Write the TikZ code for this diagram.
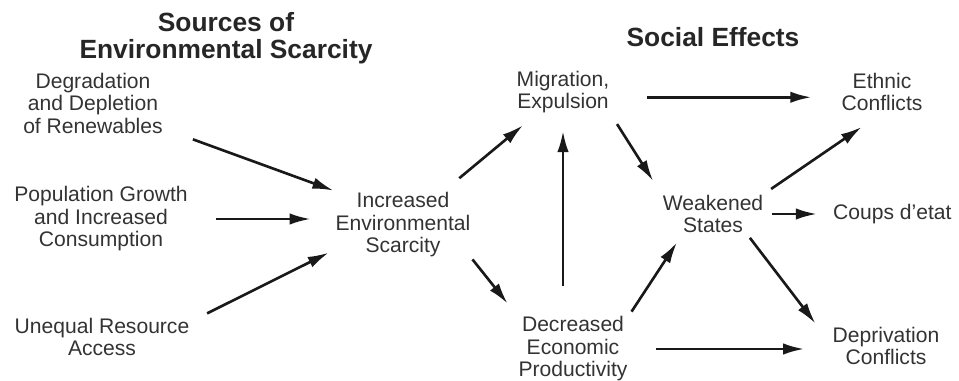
\documentclass[tikz,border=0pt]{standalone}
\usepackage{fontspec}
\setmainfont{Liberation Sans}
\usetikzlibrary{arrows.meta,positioning}

\begin{document}
\begin{tikzpicture}[
    x=0.02cm, y=-0.02cm,
    heading/.style={font=\fontsize{15}{15.5}\selectfont\bfseries, align=center, text=black!85},
    factor/.style={font=\fontsize{12}{12.8}\selectfont, align=center, text=black!80, inner sep=1pt},
    link/.style={-{Latex[length=12pt,width=6.5pt]}, line width=1.5pt, black!90}
  ]
  \useasboundingbox (0,0) rectangle (959,381);

  % headings
  \node[heading] (srcttl) at (226,38) {Sources of\\Environmental Scarcity};
  \node[heading] (socttl) at (713,37) {Social Effects};

  % sources
  \node[factor] (degr) at (93,103) {Degradation\\and Depletion\\of Renewables};
  \node[factor] (popu) at (101,219) {Population Growth\\and Increased\\Consumption};
  \node[factor] (uneq) at (102,337) {Unequal Resource\\Access};
  \node[factor] (incr) at (403,225) {Increased\\Environmental\\Scarcity};

  % social effects
  \node[factor] (migr) at (563,92) {Migration,\\Expulsion};
  \node[factor] (decr) at (573,349) {Decreased\\Economic\\Productivity};
  \node[factor] (weak) at (713,214) {Weakened\\States};
  \node[factor] (ethn) at (882,92) {Ethnic\\Conflicts};
  \node[factor, anchor=west] (coup) at (831,214) {Coups d'etat};
  \node[factor] (depr) at (886,346) {Deprivation\\Conflicts};

  % links
  \draw[link, shorten <=17pt] (degr) -- (incr.north west);
  \draw[link, shorten <=15pt, shorten >=13pt] (popu) -- (popu -| incr.west);
  \draw[link, shorten <=10pt, shorten >=3pt] (uneq.10) -- (incr.200);
  \draw[link, shorten <=11pt, shorten >=9pt] (incr) -- (migr);
  \draw[link, shorten >=8pt] (incr.south east) -- (decr.north west);
  \draw[link, shorten <=16pt, shorten >=9pt] (decr.north -| migr.south) -- (migr.south);
  \draw[link, shorten <=6pt, shorten >=8pt] (migr.south east) -- (weak.north west);
  \draw[link, shorten <=20pt, shorten >=16pt] ([yshift=-3pt]migr.east) -- ([yshift=-3pt]ethn.west);
  \draw[link, shorten <=4pt, shorten >=14pt] (weak.north east) -- (ethn.south);
  \draw[link, shorten <=4pt, shorten >=8pt] (weak) -- (coup);
  \draw[link, shorten <=2pt, shorten >=1pt] ([xshift=-10pt]weak.south east) -- ([xshift=-8pt]depr.north west);
  \draw[link, shorten <=2pt, shorten >=5pt] (decr.north east) -- ([xshift=12pt]weak.south west);
  \draw[link, shorten <=15pt, shorten >=15pt] (decr) -- (decr -| depr.west);
\end{tikzpicture}
\end{document}
